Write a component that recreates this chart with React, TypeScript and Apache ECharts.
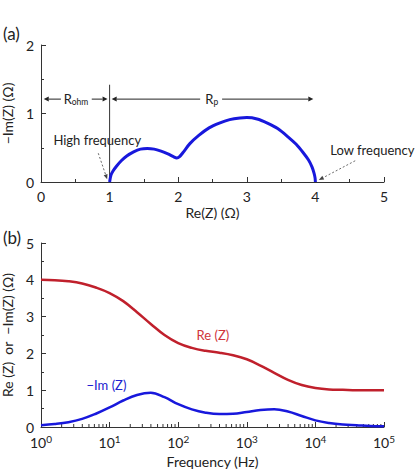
import React, { useEffect, useRef } from 'react';
import * as echarts from 'echarts';

// (a) Nyquist plot: Re(Z) vs -Im(Z), in ohm
const nyqRe = [1.0, 1.02, 1.05, 1.1, 1.17, 1.25, 1.35, 1.45, 1.55, 1.65, 1.75, 1.85, 1.93, 1.98, 2.02, 2.07, 2.17, 2.3, 2.45, 2.6, 2.75, 2.9, 3.0, 3.15, 3.3, 3.45, 3.6, 3.72, 3.82, 3.9, 3.95, 3.98, 3.995, 4.0];
const nyqIm = [0.0, 0.1, 0.16, 0.23, 0.31, 0.38, 0.44, 0.48, 0.49, 0.48, 0.45, 0.41, 0.37, 0.35, 0.37, 0.43, 0.56, 0.68, 0.79, 0.86, 0.91, 0.935, 0.94, 0.92, 0.86, 0.78, 0.66, 0.55, 0.43, 0.32, 0.22, 0.13, 0.06, 0.0];

// (b) Bode-type plot
const freqHz = [1, 1.58, 2.51, 3.98, 6.31, 10, 15.8, 25.1, 39.8, 63.1, 100, 158, 251, 398, 631, 1000, 1580, 2510, 3980, 6310, 10000, 15800, 25100, 39800, 63100, 100000];
const bodeRe = [4.0, 3.99, 3.96, 3.9, 3.79, 3.64, 3.42, 3.12, 2.8, 2.5, 2.28, 2.15, 2.07, 2.02, 1.95, 1.84, 1.67, 1.47, 1.28, 1.14, 1.06, 1.02, 1.01, 1.0, 1.0, 1.0];
const bodeIm = [0.05, 0.08, 0.13, 0.22, 0.36, 0.53, 0.72, 0.87, 0.93, 0.81, 0.62, 0.48, 0.39, 0.35, 0.36, 0.41, 0.46, 0.48, 0.42, 0.3, 0.18, 0.11, 0.07, 0.05, 0.03, 0.02];

const minorMultipliers = [2, 3, 4, 5, 6, 7, 8, 9];
const decades = [1, 10, 100, 1000, 10000];

const FONT = 'Lato, "Open Sans", sans-serif';
const BLUE = '#1818dc';
const RED = '#c0202c';
const INK = '#222';

export default function App() {
  const ref = useRef<HTMLDivElement>(null);
  useEffect(() => {
    document.body.style.margin = '0';
    const chart = echarts.init(ref.current!, null, { renderer: 'svg' });
    const axisLine = { show: true, onZero: false, lineStyle: { color: '#333', width: 1 } };
    const axisTick = { show: true, inside: true, length: 5, lineStyle: { color: '#333' } };
    const minorTick = { show: true, splitNumber: 2, length: 3, lineStyle: { color: '#333' } };
    const axisLabel = { color: INK, fontSize: 14, fontFamily: FONT, margin: 7 };
    const nameStyle = { color: INK, fontSize: 14, fontFamily: FONT };

    const minorTicks: number[][] = [];
    decades.forEach((d) => minorMultipliers.forEach((m) => minorTicks.push([d * m, 0])));

    const option: any = {
      animation: false,
      grid: [
        { left: 41, top: 45, width: 343, height: 137, containLabel: false, outerBoundsMode: 'none' },
        { left: 41, top: 243, width: 343, height: 184, containLabel: false, outerBoundsMode: 'none' },
      ],
      xAxis: [
        {
          gridIndex: 0, type: 'value', min: 0, max: 5, interval: 1,
          axisLine, axisTick, minorTick, axisLabel, splitLine: { show: false },
          name: 'Re(Z) (Ω)', nameLocation: 'middle', nameGap: 23, nameTextStyle: nameStyle,
        },
        {
          gridIndex: 1, type: 'log', logBase: 10, min: 1, max: 100000,
          axisLine, axisTick, axisLabel: {
            ...axisLabel,
            formatter: (v: number) => `{b|10}{s|${Math.round(Math.log10(v))}}`,
            rich: {
              b: { fontSize: 14, fontFamily: FONT, color: INK, lineHeight: 17 },
              s: { fontSize: 10, fontFamily: FONT, color: INK, lineHeight: 10, verticalAlign: 'top' },
            },
          },
          splitLine: { show: false }, minorTick: { show: false },
          name: 'Frequency (Hz)', nameLocation: 'middle', nameGap: 27, nameTextStyle: nameStyle,
        },
      ],
      yAxis: [
        {
          gridIndex: 0, type: 'value', min: 0, max: 2, interval: 1,
          axisLine, axisTick, minorTick, axisLabel, splitLine: { show: false },
          name: '−Im(Z) (Ω)', nameLocation: 'middle', nameGap: 16, nameTextStyle: nameStyle,
        },
        {
          gridIndex: 1, type: 'value', min: 0, max: 5, interval: 1,
          axisLine, axisTick, minorTick, axisLabel, splitLine: { show: false },
          name: 'Re (Z)  or  −Im(Z) (Ω)', nameLocation: 'middle', nameGap: 17, nameTextStyle: nameStyle,
        },
      ],
      series: [
        {
          type: 'line', xAxisIndex: 0, yAxisIndex: 0, showSymbol: false, smooth: 0.3,
          data: nyqRe.map((r, i) => [r, nyqIm[i]]),
          lineStyle: { color: BLUE, width: 3 }, itemStyle: { color: BLUE },
        },
        {
          type: 'line', xAxisIndex: 1, yAxisIndex: 1, showSymbol: false, smooth: 0.4,
          data: freqHz.map((f, i) => [f, bodeRe[i]]),
          lineStyle: { color: RED, width: 2.5 }, itemStyle: { color: RED },
        },
        {
          type: 'line', xAxisIndex: 1, yAxisIndex: 1, showSymbol: false, smooth: 0.4,
          data: freqHz.map((f, i) => [f, bodeIm[i]]),
          lineStyle: { color: BLUE, width: 2.5 }, itemStyle: { color: BLUE },
        },
        {
          type: 'custom', xAxisIndex: 1, yAxisIndex: 1, silent: true, clip: false,
          data: minorTicks,
          renderItem: (params: any, api: any) => {
            const pt = api.coord([api.value(0), 0]);
            return {
              type: 'line',
              shape: { x1: pt[0], y1: pt[1], x2: pt[0], y2: pt[1] - 3 },
              style: { stroke: '#333', lineWidth: 1 },
            };
          },
        },
      ],
    };
    chart.setOption(option);

    const p0 = (x: number, y: number) => chart.convertToPixel({ gridIndex: 0 } as any, [x, y]) as number[];
    const p1 = (x: number, y: number) => chart.convertToPixel({ gridIndex: 1 } as any, [x, y]) as number[];

    const arrow = (a: number[], b: number[], dashed: boolean, color: string, len: number, half: number, width: number) => {
      const dx = b[0] - a[0];
      const dy = b[1] - a[1];
      const d = Math.sqrt(dx * dx + dy * dy) || 1;
      const ux = dx / d;
      const uy = dy / d;
      const bx = b[0] - ux * len;
      const by = b[1] - uy * len;
      return [
        {
          type: 'line', silent: true,
          shape: { x1: a[0], y1: a[1], x2: bx, y2: by },
          style: { stroke: color, lineWidth: width, lineDash: dashed ? [2, 2] : null },
        },
        {
          type: 'polygon', silent: true,
          shape: { points: [[b[0], b[1]], [bx - uy * half, by + ux * half], [bx + uy * half, by - ux * half]] },
          style: { fill: color },
        },
      ];
    };

    const dimY = 1.21;
    const txt = (pos: number[], text: string, color: string, size: number, rich?: any) => ({
      type: 'text', silent: true, x: pos[0], y: pos[1],
      style: { text, fill: color, fontSize: size, fontFamily: FONT, align: 'center', verticalAlign: 'middle', rich },
    });

    const vTop = p0(1, 1.42);
    const vBot = p0(1, 0);
    const subRich = {
      r: { fontSize: 13, fontFamily: FONT, fill: INK, lineHeight: 15 },
      s: { fontSize: 8.5, fontFamily: FONT, fill: INK, lineHeight: 8, verticalAlign: 'bottom' },
    };

    const graphic: any[] = [
      { type: 'line', silent: true, shape: { x1: vTop[0], y1: vTop[1], x2: vBot[0], y2: vBot[1] }, style: { stroke: '#333', lineWidth: 1 } },
      ...arrow(p0(0.29, dimY), p0(0.04, dimY), false, '#222', 5, 2.5, 1),
      ...arrow(p0(0.74, dimY), p0(0.97, dimY), false, '#222', 5, 2.5, 1),
      ...arrow(p0(2.32, dimY), p0(1.03, dimY), false, '#222', 5, 2.5, 1),
      ...arrow(p0(2.64, dimY), p0(3.97, dimY), false, '#222', 5, 2.5, 1),
      txt(p0(0.51, dimY), '{r|R}{s|ohm}', INK, 13, subRich),
      txt(p0(2.49, dimY), '{r|R}{s|p}', INK, 13, subRich),
      txt(p0(0.82, 0.61), 'High frequency', INK, 13),
      ...arrow(p0(0.835, 0.42), p0(0.965, 0.04), true, '#444', 5, 2, 0.8),
      txt(p0(4.83, 0.47), 'Low frequency', INK, 13),
      ...arrow(p0(4.58, 0.31), p0(4.05, 0.03), true, '#444', 5, 2, 0.8),
      txt(p1(320, 2.5), 'Re (Z)', '#d0343c', 13),
      txt(p1(9, 1.14), '−Im (Z)', '#2020d0', 13),
      { type: 'text', silent: true, left: 3, top: 25, style: { text: '(a)', fill: INK, fontSize: 17, fontFamily: FONT } },
      { type: 'text', silent: true, left: 3, top: 229, style: { text: '(b)', fill: INK, fontSize: 17, fontFamily: FONT } },
    ];
    chart.setOption({ graphic });

    return () => chart.dispose();
  }, []);
  return <div ref={ref} style={{ width: 416, height: 473 }} />;
}
